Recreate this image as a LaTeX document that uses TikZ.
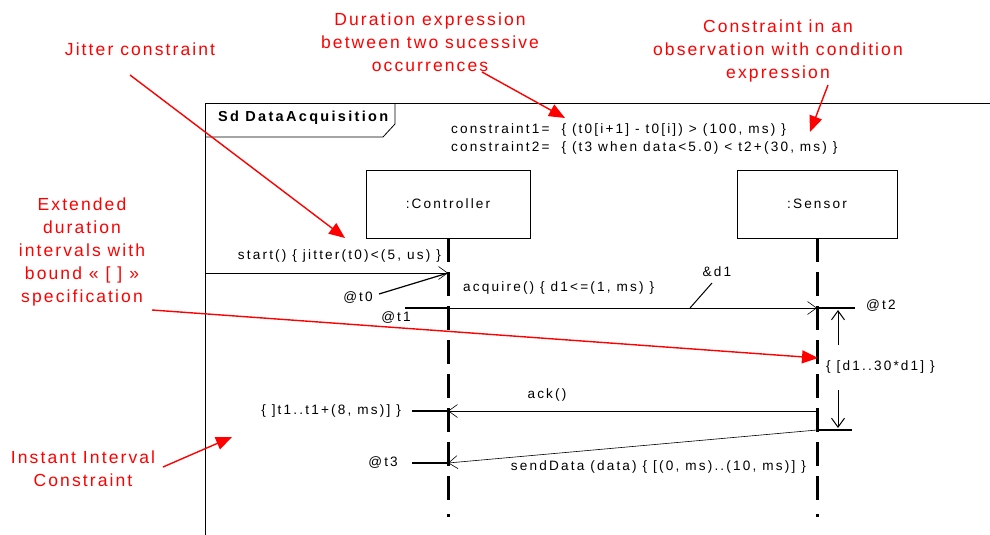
\documentclass[tikz,border=0pt]{standalone}
\usepackage{fontspec}
\setmainfont{Liberation Sans}
\newfontfamily\redf[LetterSpace=12]{Liberation Sans}
\newfontfamily\blkf[LetterSpace=16]{Liberation Sans}
\usetikzlibrary{arrows.meta}
\begin{document}
\begin{tikzpicture}[x=1pt,y=-1pt,
  lbl/.style={font=\blkf\fontsize{13.6}{15}\selectfont, inner sep=0pt},
  note/.style={font=\redf\fontsize{17.5}{23}\selectfont, text=red, align=center, inner sep=0pt},
  redarrow/.style={draw=red, line width=1.4pt, -{Triangle[length=16pt,width=13pt]}},
  msg/.style={draw, line width=0.6pt, -{Straight Barb[length=9pt,width=13pt]}},
  tick/.style={draw, line width=1.2pt},
  lifeline/.style={line width=3pt, dash pattern=on 24pt off 10pt},
  objbox/.style={draw, line width=0.8pt, minimum height=68pt, font=\blkf\fontsize{13.6}{15}\selectfont}
]
\useasboundingbox (0,0) rectangle (990,535);
% frame
\draw[line width=0.8pt] (205,535) -- (205,103) -- (990,103);
\draw[line width=0.8pt] (205,137) -- (383,137) -- (395,124) -- (395,103);
\node[lbl, anchor=west, font=\blkf\bfseries\fontsize{14.5}{15}\selectfont] (title) at (218,118) {Sd DataAcquisition};
\node[lbl, anchor=west] (c1) at (451,130) {constraint1= \ \{ (t0[i+1] - t0[i]) > (100, ms) \}};
\node[lbl, anchor=west] (c2) at (451,148) {constraint2= \ \{ (t3 when data<5.0) < t2+(30, ms) \}};
% lifelines
\node[objbox, minimum width=164pt] (ctrl) at (448,204) {:Controller};
\node[objbox, minimum width=160pt] (sens) at (817,204) {:Sensor};
\coordinate (cend) at (448,507);
\coordinate (send) at (817,507);
\draw[lifeline] (ctrl.south) -- (cend);
\draw[lifeline] (sens.south) -- (send);
\fill (446.5,514) rectangle (449.5,517);
\fill (815.5,514) rectangle (818.5,517);
% event points
\coordinate (ct0) at (448,273);
\coordinate (ct1) at (448,308);
\coordinate (cack) at (448,411);
\coordinate (ct3) at (448,463);
\coordinate (st2) at (817,308);
\coordinate (sack) at (817,411);
\coordinate (ssend) at (817,430);
% start
\coordinate (gate) at (205,273);
\draw[msg] (gate) -- (ct0);
\node[lbl, anchor=east] (startl) at (441,256) {start() \{ jitter(t0)<(5, us) \}};
\node[lbl] (t0l) at (358,298) {@t0};
\coordinate (t0s) at (379,294);
\draw[tick] (t0s) -- (ct0);
% acquire
\coordinate (t1s) at (405,308);
\draw[line width=1.2pt] (t1s) -- (ct1);
\draw[msg] (ct1) -- (st2);
\node[lbl, anchor=west] (acql) at (463,288) {acquire() \{ d1<=(1, ms) \}};
\node[lbl] (t1l) at (396,318) {@t1};
\node[lbl] (d1l) at (717,272) {\&d1};
\coordinate (d1a) at (690,308);
\coordinate (d1b) at (712,283);
\draw[line width=1pt] (d1a) -- (d1b);
\coordinate (t2e) at (855,308);
\draw[tick] (st2) -- (t2e);
\node[lbl, anchor=west] (t2l) at (866,306) {@t2};
% duration constraint
\node[lbl, anchor=west] (durl) at (826,367) {\{ [d1..30*d1] \}};
\coordinate (da1) at (838,345);
\coordinate (da2) at (838,310);
\coordinate (db1) at (838,390);
\coordinate (db2) at (838,428);
\draw[msg, line width=1pt] (da1) -- (da2);
\draw[msg, line width=1pt] (db1) -- (db2);
\coordinate (tbe) at (852,430);
\draw[tick] (ssend) -- (tbe);
% ack
\draw[msg] (sack) -- (cack);
\node[lbl] (ackl) at (547,395) {ack()};
\coordinate (ackt) at (412,411);
\draw[tick] (ackt) -- (cack);
\node[lbl, anchor=east] (ivl) at (401,411) {\{ ]t1..t1+(8, ms)] \}};
% sendData
\draw[msg] (ssend) -- (ct3);
\node[lbl, anchor=east] (sdl) at (806,467) {sendData (data) \{ [(0, ms)..(10, ms)] \}};
\coordinate (t3t) at (412,463);
\draw[tick] (t3t) -- (ct3);
\node[lbl, anchor=east] (t3l) at (398,463) {@t3};
% red annotations
\node[note] (n1) at (430,42) {Duration expression\\between two sucessive\\occurrences};
\node[note] (n2) at (778,51) {Constraint in an\\observation with condition\\expression};
\node[note] (n3) at (140,49) {Jitter constraint};
\node[note] (n4) at (82,252) {Extended\\duration\\intervals with\\bound « [ ] »\\specification};
\node[note] (n5) at (83,469) {Instant Interval\\Constraint};
\coordinate (a1s) at (482,72); \coordinate (a1e) at (565,118);
\coordinate (a2s) at (828,85); \coordinate (a2e) at (810,132);
\coordinate (a3s) at (130,75); \coordinate (a3e) at (345,238);
\coordinate (a4s) at (152,310); \coordinate (a4e) at (818,358);
\coordinate (a5s) at (163,467); \coordinate (a5e) at (232,437);
\draw[redarrow] (a1s) -- (a1e);
\draw[redarrow] (a2s) -- (a2e);
\draw[redarrow] (a3s) -- (a3e);
\draw[redarrow] (a4s) -- (a4e);
\draw[redarrow] (a5s) -- (a5e);
\end{tikzpicture}
\end{document}
